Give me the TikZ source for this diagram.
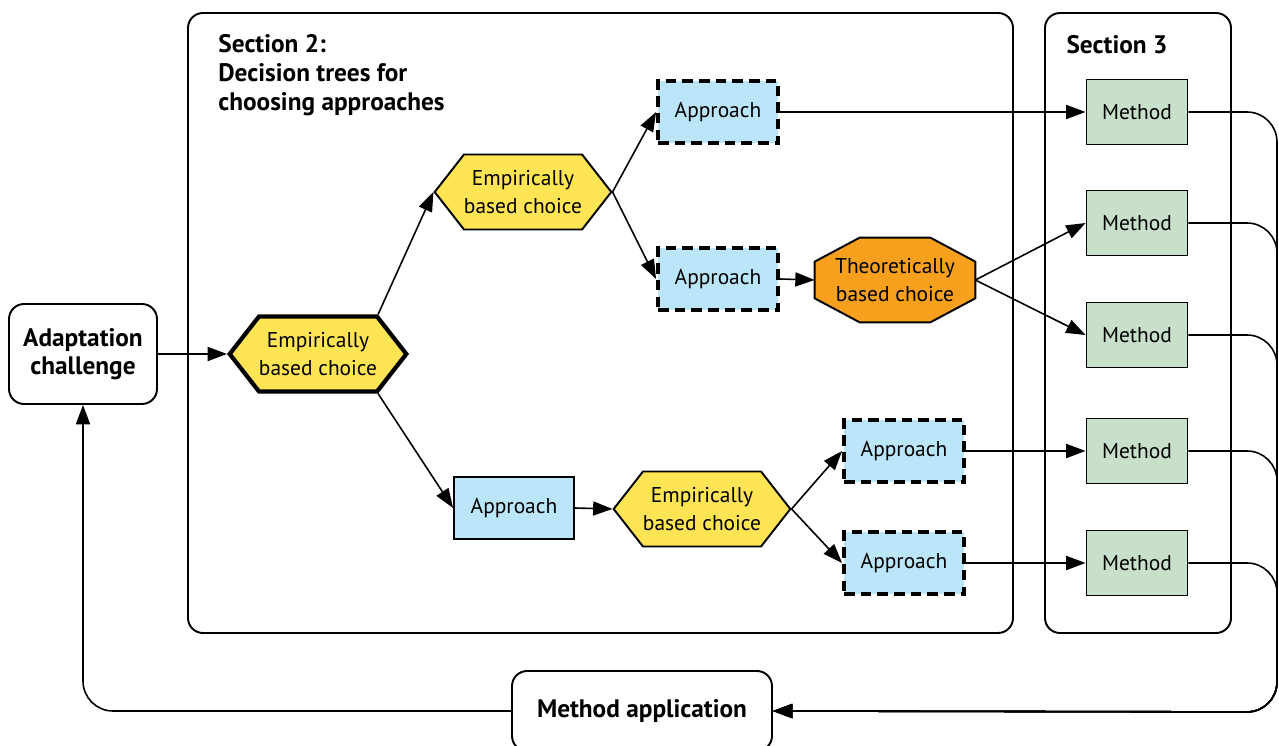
\documentclass[tikz,border=0pt]{standalone}
\usepackage{fontspec}
\setmainfont{PT Sans}
\usetikzlibrary{shapes.symbols,arrows.meta,calc,backgrounds}

% Define colors
\definecolor{choiceyellow}{RGB}{255,229,84}
\definecolor{theoorange}{RGB}{247,160,30}
\definecolor{approachblue}{RGB}{187,229,248}
\definecolor{methodgreen}{RGB}{200,224,201}

\tikzset{
  section/.style={draw, line width=1.1pt, rounded corners=0.3cm},
  endbox/.style={draw, line width=1.1pt, rounded corners=0.3cm, align=center,
    font=\bfseries\fontsize{14.4}{15.6}\selectfont},
  choice/.style={shape=signal, signal to=east and west, signal pointer angle=104,
    draw, line width=1.1pt, fill=choiceyellow, minimum width=3.46cm,
    minimum height=1.5cm, inner sep=0pt, align=center,
    font=\fontsize{12.2}{15.8}\selectfont},
  mainchoice/.style={choice, line width=2.4pt},
  approach/.style={draw, fill=approachblue, line width=1.1pt, minimum width=2.4cm,
    minimum height=1.24cm, font=\fontsize{12.2}{15.8}\selectfont},
  tentative/.style={approach, line width=2.2pt, dash pattern=on 6pt off 3.5pt},
  method/.style={draw, fill=methodgreen, line width=1.1pt, minimum width=2.02cm,
    minimum height=1.3cm, font=\fontsize{12.2}{15.8}\selectfont},
  conn/.style={line width=0.9pt, -{Triangle[length=11pt,width=8pt]}},
  back/.style={line width=0.9pt, rounded corners=0.6cm}
}

\begin{document}
\begin{tikzpicture}[x=0.02cm, y=-0.02cm]

    \useasboundingbox (0,0) rectangle (1279,746);

    % Section frames
    \draw[section] (188,13) rectangle (1013,633);
    \draw[section] (1045,13) rectangle (1231,633);
    \node[anchor=north west, align=left, inner sep=0pt,
      font=\bfseries\fontsize{14.4}{16.6}\selectfont] (sec2) at (218,34)
      {Section 2:\\Decision trees for\\choosing approaches};
    \node[font=\bfseries\fontsize{14.4}{16}\selectfont] (sec3) at (1117,45) {Section 3};

    % Start and end
    \node[endbox, minimum width=2.96cm, minimum height=2cm] (adapt) at (83,354)
      {Adaptation\\challenge};
    \node[endbox, minimum width=5.2cm, minimum height=1.6cm] (apply) at (642,711)
      {Method application};

    % Choices
    \node[mainchoice] (ch1) at (318,354) {Empirically\\based choice};
    \node[choice] (ch2) at (523,192) {Empirically\\based choice};
    \node[choice] (ch3) at (702,509) {Empirically\\based choice};
    \node[minimum width=3.2cm, minimum height=1.68cm, align=center, inner sep=0pt,
      font=\fontsize{12.2}{15.8}\selectfont] (theo) at (895,280)
      {Theoretically\\based choice};
    \begin{pgfonlayer}{background}
    \filldraw[fill=theoorange, line width=1.1pt]
      ($(theo.north west)+(45,0)$) -- ($(theo.north east)+(-45,0)$)
      -- ($(theo.north east)+(0,24)$) -- ($(theo.south east)+(0,-24)$)
      -- ($(theo.south east)+(-45,0)$) -- ($(theo.south west)+(45,0)$)
      -- ($(theo.south west)+(0,-24)$) -- ($(theo.north west)+(0,24)$) -- cycle;
    \end{pgfonlayer}

    % Approaches
    \node[tentative] (ap1) at (718,112) {Approach};
    \node[tentative] (ap2) at (718,279) {Approach};
    \node[approach] (ap5) at (514,508) {Approach};
    \node[tentative] (ap3) at (904,451) {Approach};
    \node[tentative] (ap4) at (904,563) {Approach};

    % Methods
    \foreach \n/\y in {1/112, 2/223, 3/335, 4/451, 5/563}
      \node[method] (m\n) at (1137,\y) {Method};

    % Tree
    \draw[conn] (adapt.east) -- (ch1.west);
    \draw[conn] (ch1.north east) -- (ch2.west);
    \draw[conn] (ch1.south east) -- (ap5.west);
    \draw[conn] (ch2.east) -- (ap1.west);
    \draw[conn] (ch2.east) -- (ap2.west);
    \draw[conn] (ap2.east) -- (theo.west);
    \draw[conn] (theo.east) -- (m2.west);
    \draw[conn] (theo.east) -- (m3.west);
    \draw[conn] (ap1.east) -- (m1.west);
    \draw[conn] (ap5.east) -- (ch3.west);
    \draw[conn] (ch3.east) -- (ap3.west);
    \draw[conn] (ch3.east) -- (ap4.west);
    \draw[conn] (ap3.east) -- (m4.west);
    \draw[conn] (ap4.east) -- (m5.west);

    %-------------
    % Back loop
    \coordinate (corner) at (1277,712);
    \foreach \n in {1,...,5}
      \draw[back, conn] (m\n.east) -| (corner) -- (apply.east);
    \draw[back, conn] (apply.west) -| (adapt.south);

\end{tikzpicture}
\end{document}
